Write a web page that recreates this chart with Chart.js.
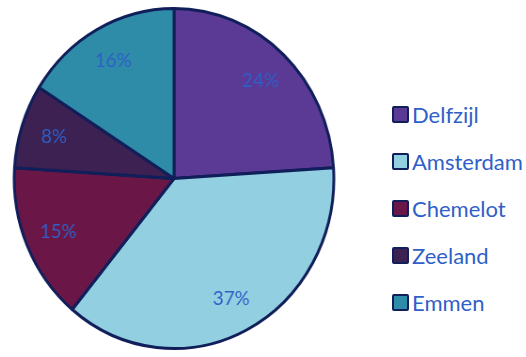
<!DOCTYPE html>
<html>
<head>
<meta charset="utf-8">
<script src="https://cdn.jsdelivr.net/npm/chart.js@4/dist/chart.umd.min.js"></script>
<style>
  html, body { margin: 0; padding: 0; background: #fff; }
  #wrap { position: relative; width: 526px; height: 357px; overflow: hidden; }
  #pieBox { position: absolute; left: 0; top: 0; width: 348px; height: 357px;
            transform: scaleX(0.94); transform-origin: 174px 50%; }
  #legend { position: absolute; left: 392px; top: 0; font-family: Lato, "Open Sans", sans-serif;
            font-size: 22px; color: #2F5FC8; }
  .item { position: absolute; left: 0; display: flex; align-items: center; white-space: nowrap; height: 24px; }
  .box { width: 13px; height: 13px; border: 2.5px solid #101E5A; border-radius: 2px; margin-right: 3px; }
</style>
</head>
<body>
<div id="wrap">
  <div id="pieBox"><canvas id="pie"></canvas></div>
  <div id="legend"></div>
</div>
<script>
// dane z wykresu
const labels = ['Delfzijl', 'Amsterdam', 'Chemelot', 'Zeeland', 'Emmen'];
const values = [24, 37, 15, 8, 16];
const colors = ['#5B3A95', '#92CFE0', '#6A1747', '#3D2152', '#2E8CA8'];

// procenty wewnatrz wycinkow
const pctLabels = {
  id: 'pctLabels',
  afterDatasetsDraw(chart) {
    const ctx = chart.ctx;
    const meta = chart.getDatasetMeta(0);
    const total = values.reduce((a, b) => a + b, 0);
    ctx.save();
    ctx.font = '20px Lato, "Open Sans", sans-serif';
    ctx.fillStyle = '#2F5FC8';
    ctx.textAlign = 'center';
    ctx.textBaseline = 'middle';
    meta.data.forEach((arc, i) => {
      const p = arc.getProps(['x', 'y', 'startAngle', 'endAngle', 'outerRadius']);
      const a = (p.startAngle + p.endAngle) / 2;
      const r = p.outerRadius * 0.79;
      ctx.fillText(Math.round(values[i] / total * 100) + '%', p.x + Math.cos(a) * r, p.y + Math.sin(a) * r);
    });
    ctx.restore();
  }
};

new Chart(document.getElementById('pie'), {
  type: 'pie',
  data: {
    labels: labels,
    datasets: [{
      data: values,
      backgroundColor: colors,
      borderColor: '#101E5A',
      borderWidth: 3
    }]
  },
  options: {
    responsive: true,
    maintainAspectRatio: false,
    animation: false,
    layout: { padding: { top: 7, bottom: 7, left: 0, right: 0 } },
    plugins: {
      legend: { display: false },
      tooltip: { enabled: false }
    }
  },
  plugins: [pctLabels]
});

// legenda
const legend = document.getElementById('legend');
labels.forEach((name, i) => {
  const row = document.createElement('div');
  row.className = 'item';
  row.style.top = (114 + i * 47 - 12) + 'px';
  const box = document.createElement('span');
  box.className = 'box';
  box.style.background = colors[i];
  const txt = document.createElement('span');
  txt.textContent = name;
  row.appendChild(box);
  row.appendChild(txt);
  legend.appendChild(row);
});
</script>
</body>
</html>
